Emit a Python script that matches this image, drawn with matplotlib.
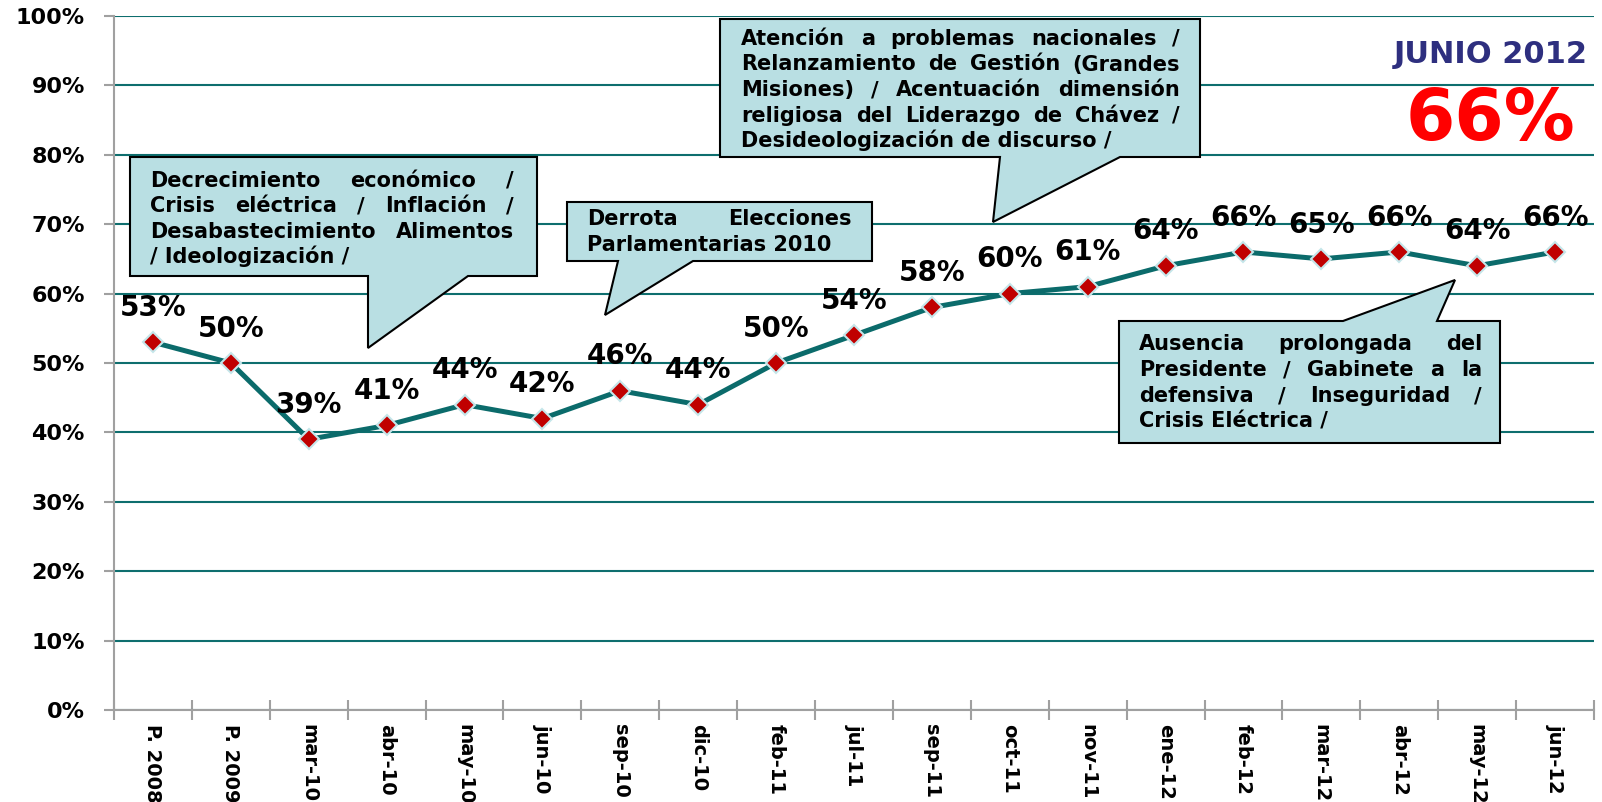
import matplotlib
matplotlib.use("Agg")
import matplotlib.pyplot as plt
from matplotlib.patches import Polygon

# datos
categorias = ["P. 2008", "P. 2009", "mar-10", "abr-10", "may-10", "jun-10",
              "sep-10", "dic-10", "feb-11", "jul-11", "sep-11", "oct-11",
              "nov-11", "ene-12", "feb-12", "mar-12", "abr-12", "may-12", "jun-12"]
valores = [53, 50, 39, 41, 44, 42, 46, 44, 50, 54, 58, 60, 61, 64, 66, 65, 66, 64, 66]
yticks = list(range(0, 101, 10))

nota1 = ["Decrecimiento económico /", "Crisis eléctrica / Inflación /",
         "Desabastecimiento Alimentos", "/ Ideologización /"]
nota2 = ["Derrota Elecciones", "Parlamentarias 2010"]
nota3 = ["Atención a problemas nacionales /", "Relanzamiento de Gestión (Grandes",
         "Misiones) / Acentuación dimensión", "religiosa del Liderazgo de Chávez /",
         "Desideologización de discurso /"]
nota4 = ["Ausencia prolongada del", "Presidente / Gabinete a la",
         "defensiva / Inseguridad /", "Crisis Eléctrica /"]

W, H = 1602, 802
plt.rcParams["font.family"] = ["DejaVu Sans"]
plt.rcParams["font.weight"] = "bold"

fig = plt.figure(figsize=(W / 100, H / 100), dpi=100)
ax = fig.add_axes([114 / W, 1 - 710 / H, (1594 - 114) / W, (710 - 16) / H])

color_linea = "#0B6B6B"
color_grid = "#0E6E6E"
color_eje = "#A0A0A0"
fondo_nota = "#B9DFE3"

x = list(range(len(categorias)))
ax.plot(x, valores, color=color_linea, lw=3.6, marker="D", markersize=10,
        markerfacecolor="#C00000", markeredgecolor="#C5E6EA", markeredgewidth=1.5,
        zorder=3)
for xi, v in zip(x, valores):
    ax.annotate(f"{v}%", (xi, v), xytext=(0, 19), textcoords="offset points",
                ha="center", va="baseline", fontsize=20, fontweight="bold")

ax.set_xlim(-0.5, len(categorias) - 0.5)
ax.set_ylim(0, 100)
ax.set_yticks(yticks)
ax.set_yticklabels([f"{t}%" for t in yticks], fontsize=16, fontweight="bold")
ax.set_xticks(x)
ax.set_xticklabels(categorias, rotation=270, ha="center", va="top",
                   fontsize=14, fontweight="bold")
ax.set_xticks([i - 0.5 for i in range(len(categorias) + 1)], minor=True)
ax.tick_params(axis="x", which="major", length=0, pad=10)
ax.tick_params(axis="x", which="minor", direction="inout", length=14,
               width=1.5, color=color_eje)
ax.tick_params(axis="y", length=7, width=1.5, color=color_eje, pad=14)

ax.grid(axis="y", color=color_grid, lw=1.5)
ax.set_axisbelow(True)
for s in ["top", "right"]:
    ax.spines[s].set_visible(False)
for s in ["left", "bottom"]:
    ax.spines[s].set_color(color_eje)
    ax.spines[s].set_linewidth(1.5)
    ax.spines[s].set_zorder(2.5)


def fx(px):
    return px / W


def fy(py):
    return 1 - py / H


def globo(puntos):
    p = Polygon([(fx(a), fy(b)) for a, b in puntos], closed=True,
                transform=fig.transFigure, facecolor=fondo_nota,
                edgecolor="black", lw=1.5, zorder=5)
    fig.add_artist(p)


renderer = fig.canvas.get_renderer()


def texto_justificado(lineas, x0, x1, y0, dy, size=15):
    for i, linea in enumerate(lineas):
        yb = y0 + i * dy
        palabras = linea.split()
        if i == len(lineas) - 1 or len(palabras) == 1:
            fig.text(fx(x0), fy(yb), linea, fontsize=size, fontweight="bold",
                     va="baseline", ha="left", zorder=6)
            continue
        ts = [fig.text(0, fy(yb), p, fontsize=size, fontweight="bold",
                       va="baseline", ha="left", zorder=6) for p in palabras]
        anchos = [t.get_window_extent(renderer).width for t in ts]
        hueco = (x1 - x0 - sum(anchos)) / (len(ts) - 1)
        pos = x0
        for t, a in zip(ts, anchos):
            t.set_x(fx(pos))
            pos += a + hueco


globo([(130, 157), (537, 157), (537, 276), (468, 276), (368, 348), (368, 276), (130, 276)])
texto_justificado(nota1, 150, 514, 187, 25.3)

globo([(567, 202), (872, 202), (872, 261), (693, 261), (605, 315), (618, 261), (567, 261)])
texto_justificado(nota2, 587, 852, 225, 26)

globo([(720, 19), (1200, 19), (1200, 157), (1120, 157), (993, 222), (1000, 157), (720, 157)])
texto_justificado(nota3, 741, 1180, 45, 25.5)

globo([(1119, 321), (1343, 321), (1455, 280), (1437, 321), (1500, 321), (1500, 443), (1119, 443)])
texto_justificado(nota4, 1139, 1482, 350, 26)

fig.text(fx(1588), fy(63), "JUNIO 2012", color="#2E2F7F", fontsize=22,
         fontweight="bold", ha="right", va="baseline")
fig.text(fx(1575), fy(140), "66%", color="#FF0000", fontsize=51,
         fontweight="bold", ha="right", va="baseline")

fig.savefig("out.png", dpi=100)
